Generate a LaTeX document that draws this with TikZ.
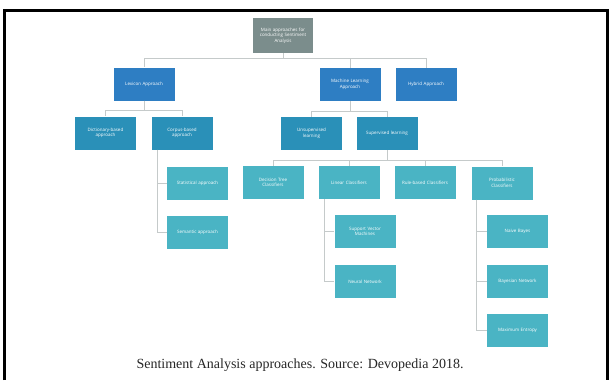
\documentclass[tikz,border=0pt]{standalone}
\usepackage{fontspec}
\setmainfont{Liberation Serif}
\newfontfamily\boxfont{Open Sans}
\definecolor{topgrey}{HTML}{7B8D8C}
\definecolor{lvlone}{HTML}{2E7EC3}
\definecolor{lvltwo}{HTML}{2A90B8}
\definecolor{lvlthree}{HTML}{4AB4C4}
\definecolor{linegrey}{HTML}{C5CACA}
\begin{document}
\begin{tikzpicture}[x=1pt, y=-1pt,
  box/.style={fill=#1, text=white, minimum width=61pt, minimum height=33pt,
    text width=54pt, align=center, inner sep=1pt,
    font=\boxfont\fontsize{4.5}{5.4}\selectfont},
  conn/.style={draw=linegrey, line width=.6pt}]
\useasboundingbox (0,0) rectangle (612,380);
\draw[line width=2.5pt](4.5,380)--(4.5,10.5)--(607.5,10.5)--(607.5,380);

\node[box=topgrey, minimum width=60pt, minimum height=35pt](top) at (283,35.5){Main approaches for\\ conducting Sentiment\\ Analysis};

\node[box=lvlone](lex) at (144,84){Lexicon Approach};
\node[box=lvlone](ml) at (350,84.5){Machine Learning\\ Approach};
\node[box=lvlone](hyb) at (426,84.5){Hybrid Approach};

\node[box=lvltwo](dict) at (105.5,133){Dictionary-based\\ approach};
\node[box=lvltwo](corp) at (182,133){Corpus-based\\ approach};
\node[box=lvltwo](unsup) at (311.5,133.5){Unsupervised\\ learning};
\node[box=lvltwo](sup) at (387,133.5){Supervised learning};

\node[box=lvlthree](stat) at (197.5,183){Statistical approach};
\node[box=lvlthree](sem) at (197.5,232){Semantic approach};

\node[box=lvlthree](dt) at (273,182.5){Decision Tree\\ Classifiers};
\node[box=lvlthree](lin) at (349,182.5){Linear Classifiers};
\node[box=lvlthree](rule) at (425,182.5){Rule-based Classifiers};
\node[box=lvlthree](prob) at (502,183){Probabilistic\\ Classifiers};

\node[box=lvlthree](svm) at (365,231.5){Support Vector\\ Machines};
\node[box=lvlthree](nn) at (365,281.5){Neural Network};
\node[box=lvlthree](nb) at (517.5,231.5){Naive Bayes};
\node[box=lvlthree](bn) at (517.5,281){Bayesian Network};
\node[box=lvlthree](me) at (517.5,330.5){Maximum Entropy};

% tree lines
\draw[conn](top.south)--++(0,5)-|(lex.north);
\draw[conn](top.south)--++(0,5)-|(ml.north);
\draw[conn](top.south)--++(0,5)-|(hyb.north);
\draw[conn](lex.south)--++(0,10)-|(dict.north);
\draw[conn](lex.south)--++(0,10)-|(corp.north);
\draw[conn]([xshift=6pt]corp.south west)|-(stat.west);
\draw[conn]([xshift=6pt]corp.south west)|-(sem.west);
\draw[conn](ml.south)--++(0,10)-|(unsup.north);
\draw[conn](ml.south)--++(0,10)-|(sup.north);
\foreach \c in {dt,lin,rule,prob}
  \draw[conn](sup.south)--++(0,10)-|(\c.north);
\draw[conn]([xshift=6pt]lin.south west)|-(svm.west);
\draw[conn]([xshift=6pt]lin.south west)|-(nn.west);
\foreach \c in {nb,bn,me}
  \draw[conn]([xshift=5pt]prob.south west)|-(\c.west);

\node[text=black!85, font=\fontsize{14}{16}\selectfont](cap) at (300,365.5){Sentiment Analysis approaches. Source: Devopedia 2018.};
\end{tikzpicture}
\end{document}
